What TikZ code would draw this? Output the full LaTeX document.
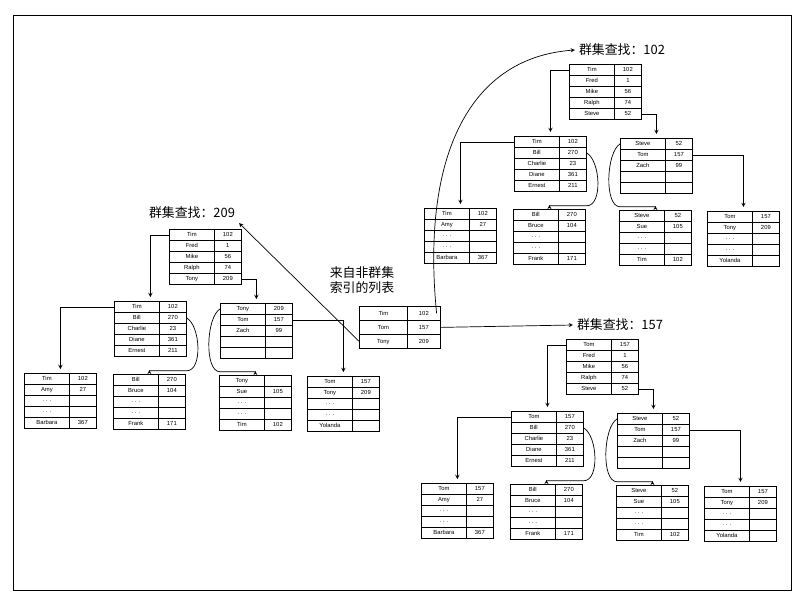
\documentclass[tikz,border=0pt]{standalone}
\usepackage{fontspec}
\setsansfont{Liberation Sans}
\newfontfamily\cjk{Noto Sans CJK SC}
\usetikzlibrary{matrix,calc}

\tikzset{
    cell/.style={draw, inner sep=0pt, minimum height=0.33cm, text height=4pt, text depth=1pt,
        font=\sffamily\fontsize{5}{5}\selectfont},
    tbl/.style={matrix of nodes, anchor=north west, nodes in empty cells, ampersand replacement=\&,
        column sep=-0.4pt, row sep=-0.4pt, nodes={cell},
        column 1/.style={nodes={minimum width=1.35cm}}, column 2/.style={nodes={minimum width=0.81cm}}},
    link/.style={->, >=stealth, semithick},
    title/.style={font=\cjk\fontsize{11}{11}\selectfont}
}
\def\dd{· · ·}

% one clustered tree: prefix, shift, first key/value, right key/value, leaf value
\newcommand{\cltree}[7]{
    \begin{scope}[shift={#2}]
        \matrix (#1-r) [tbl] at (165,225) {#3 \& #4\\ Fred \& 1\\ Mike \& 56\\ Ralph \& 74\\ #5 \& #6\\};
        \matrix (#1-m) [tbl] at (110,297) {#3 \& #4\\ Bill \& 270\\ Charlie \& 23\\ Diane \& 361\\ Ernest \& 211\\};
        \matrix (#1-n) [tbl] at (216,299) {#5 \& #6\\ Tom \& 157\\ Zach \& 99\\ \& \\ \& \\};
        \matrix (#1-p) [tbl] at (20,369) {#3 \& #4\\ Amy \& 27\\ \dd \& \\ \dd \& \\ Barbara \& 367\\};
        \matrix (#1-q) [tbl] at (109,370) {Bill \& 270\\ Bruce \& 104\\ \dd \& \\ \dd \& \\ Frank \& 171\\};
        \matrix (#1-s) [tbl] at (215,371) {#5 \& #7\\ Sue \& 105\\ \dd \& \\ \dd \& \\ Tim \& 102\\};
        \matrix (#1-t) [tbl] at (303,372) {Tom \& 157\\ Tony \& 209\\ \dd \& \\ \dd \& \\ Yolanda \& \\};
        \draw[link] (#1-r-1-1.west) -| (#1-m.north);
        \draw[link] (#1-r-5-2.east) -| (#1-n.north);
        \draw[link] (#1-m-1-1.west) -| (#1-p.north);
        \draw[link] (#1-n-2-2.east) -| (#1-t.north);
        \draw[link] (#1-m-2-2.east) .. controls +(14,8) and +(16,0) .. ($(#1-m.south east)+(-4,10)$) -| (#1-q.north);
        \draw[link] (#1-n-1-1.west) .. controls +(-14,8) and +(-16,0) .. ($(#1-n.south west)+(4,9)$) -| (#1-s.north);
    \end{scope}
}

\begin{document}
\begin{tikzpicture}[x=0.03cm, y=-0.03cm]
    \useasboundingbox (0,0) rectangle (803,604);
    \draw[thick] (13,15) rectangle (791,590);

    \cltree{a}{(0,0)}{Tim}{102}{Tony}{209}{}
    \cltree{b}{(400,-165)}{Tim}{102}{Steve}{52}{52}
    \cltree{c}{(397,110)}{Tom}{157}{Steve}{52}{52}

    \node[title] (t209) at (192,213) {群集查找：209};
    \node[title] (t102) at (622,50) {群集查找：102};
    \node[title] (t157) at (620,325) {群集查找：157};

    \node[title, align=center] (src) at (362,280) {来自非群集\\[2pt]索引的列表};
    \matrix (mid) [tbl, nodes={minimum height=0.42cm}, column 1/.style={nodes={minimum width=1.44cm}},
        column 2/.style={nodes={minimum width=0.99cm}}] at (355,302) {Tim \& 102\\ Tom \& 157\\ Tony \& 209\\};

    \draw[link] ($(mid-1-2.east)+(-4,0)$) .. controls +(-15,-150) and +(-110,8) .. (t102.west);
    \draw[link] (mid-2-2.east) -- (t157.west);
    \draw[link] (mid-3-1.west) -- (t209.south east);
\end{tikzpicture}
\end{document}
